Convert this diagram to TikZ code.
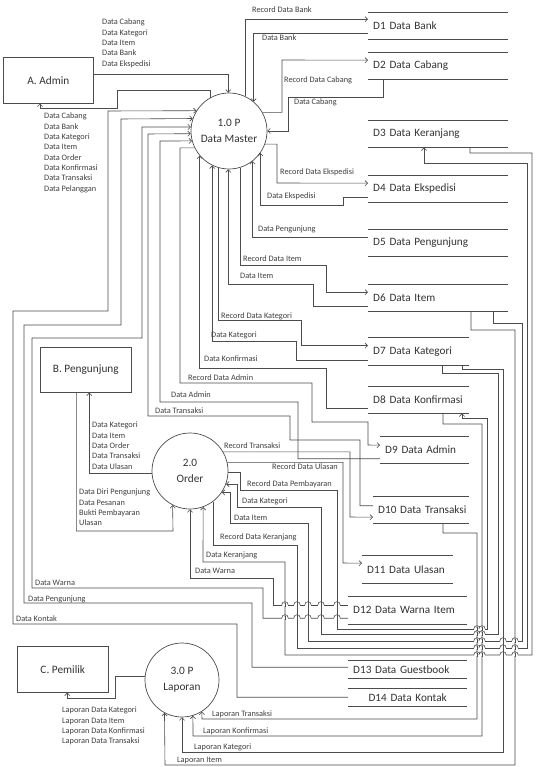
\documentclass[tikz,border=0pt]{standalone}
\usepackage{fontspec}
\setmainfont{Carlito}
\usetikzlibrary{arrows.meta}

\tikzset{
  ln/.style={draw=black!70, line width=0.6pt},
  fl/.style={ln, -{Straight Barb[length=2.6pt,width=5.2pt]}},
  lbl/.style={font=\fontsize{8.3}{10.3}\selectfont, text=black!75, inner sep=0pt, anchor=west},
  blk/.style={lbl, anchor=north west, align=left},
  ent/.style={draw=black!70, line width=0.6pt, font=\fontsize{11.3}{13}\selectfont, text=black!80, anchor=north west, inner sep=0pt},
  proc/.style={circle, draw=black!70, line width=0.7pt, minimum size=#1, align=center, font=\fontsize{11.3}{16}\selectfont, text=black!80, inner sep=0pt},
  store/.style={anchor=north west, text width=#1, align=left, inner xsep=5pt, inner ysep=0pt, minimum height=27pt,
    font=\fontsize{11.2}{13}\selectfont, text=black!80,
    append after command={(\tikzlastnode.north west) edge[ln] (\tikzlastnode.north east)
                          (\tikzlastnode.south west) edge[ln] (\tikzlastnode.south east)}},
}

% small bridge where a horizontal flow passes over a vertical one
\newcommand\hopover[2]{%
  \fill[white] (#1-3.2,#2-1.2) rectangle (#1+3.2,#2+1.2);
  \draw[ln] (#1-3.2,#2) .. controls (#1-3.2,#2-4.4) and (#1+3.2,#2-4.4) .. (#1+3.2,#2);
  \draw[ln] (#1,#2-1.7) -- (#1,#2+1.7);}

\begin{document}
\begin{tikzpicture}[x=1pt,y=-1pt]
\fill[white] (0,0) rectangle (535,767);
\useasboundingbox (0,0) rectangle (535,767);

% ---------- external entities ----------
\node[ent, minimum width=90pt, minimum height=46pt] (admin) at (3,57) {A. Admin};
\node[ent, minimum width=91pt, minimum height=45pt] (peng) at (40,347) {B. Pengunjung};
\node[ent, minimum width=91pt, minimum height=46pt] (pemilik) at (17,646) {C. Pemilik};

% ---------- processes ----------
\node[proc=76pt] (p1) at (229,131) {1.0 P\\Data Master};
\node[proc=76pt] (p2) at (190,471) {2.0\\Order};
\node[proc=74pt] (p3) at (182,680) {3.0 P\\Laporan};

% ---------- data stores ----------
\node[store=130pt] (d1) at (368,12) {D1 Data Bank};
\node[store=130pt] (d2) at (368,52) {D2 Data Cabang};
\node[store=130pt] (d3) at (368,120) {D3 Data Keranjang};
\node[store=130pt] (d4) at (368,175) {D4 Data Ekspedisi};
\node[store=130pt] (d5) at (368,229) {D5 Data Pengunjung};
\node[store=130pt] (d6) at (368,284) {D6 Data Item};
\node[store=91pt, minimum height=28pt] (d7) at (368,337) {D7 Data Kategori};
\node[store=91pt] (d8) at (368,386) {\mbox{D8 Data Konfirmasi}};
\node[store=79pt] (d9) at (380,436) {D9 Data Admin};
\node[store=86pt] (d10) at (373,496) {\mbox{D10 Data Transaksi}};
\node[store=81pt, minimum height=28pt] (d11) at (362,555) {D11 Data Ulasan};
\node[store=109pt, minimum height=28pt] (d12) at (348,596) {D12 Data Warna Item};
\node[store=109pt, minimum height=18pt] (d13) at (348,660) {D13 Data Guestbook};
\node[store=109pt, minimum height=18pt, align=center] (d14) at (348,688) {D14 Data Kontak};

% ---------- Admin <-> 1.0 ----------
\draw[fl] ([yshift=5.5pt]admin.east) -| (p1.91.5);
\draw[fl] (p1.120) |- (117,90) |- (40,108) -- (admin.south -| 40,0);
\node[blk] (la1) at (102,19) {Data Cabang\\Data Kategori\\Data Item\\Data Bank\\Data Ekspedisi};
\node[blk] (la2) at (44,113) {Data Cabang\\Data Bank\\Data Kategori\\Data Item\\Data Order\\Data Konfirmasi\\Data Transaksi\\Data Pelanggan};

% ---------- 1.0 <-> stores (right side) ----------
\draw[fl] (p1.65.1) |- ([yshift=6.5pt]d1.west);
\node[lbl] (t1) at (252,10) {Record Data Bank};
\draw[fl] ([yshift=-7.5pt]d1.west) -| (p1.50.9);
\node[lbl] (t2) at (262,38) {Data Bank};
\draw[fl] (p1.29.9) -| (282,60) -- ([yshift=5.5pt]d2.west);
\node[lbl] (t3) at (284,80) {Record Data Cabang};
\draw[fl] ([xshift=15pt]d2.south west) |- (288,97) |- (p1.east);
\node[lbl] (t4) at (294,102) {Data Cabang};
\draw[fl] (p1.-20) -| (277,183) -- ([yshift=5.5pt]d4.west);
\node[lbl] (t5) at (280,172) {Record Data Ekspedisi};
\draw[fl] ([yshift=-8.5pt]d4.west) -| (343,205) -| (p1.-35.4);
\node[lbl] (t6) at (267,196) {Data Ekspedisi};
\draw[fl] ([yshift=5.5pt]d5.west) -| (p1.-52.7);
\node[lbl] (t7) at (258,229) {Data Pengunjung};
\draw[fl] (p1.-73.2) |- (326,265) |- ([yshift=5.5pt]d6.west);
\node[lbl] (t8) at (243,259) {Record Data Item};
\draw[fl] ([yshift=-8.5pt]d6.west) -| (313,284) -| (p1.-91.5);
\node[lbl] (t9) at (240,276) {Data Item};
\draw[fl] (p1.-106.8) |- (301,320) |- ([yshift=5.5pt]d7.west);
\node[lbl] (t10) at (221,316) {Record Data Kategori};
\draw[fl] ([yshift=-9pt]d7.west) -| (296,341) -| (p1.-116.6);
\node[lbl] (t11) at (211,335) {Data Kategori};
\draw[fl] ([yshift=-9pt]d8.west) -| (326,368) -| (p1.220.3);
\node[lbl] (t12) at (204,359) {Data Konfirmasi};
\draw[fl] (p1.206.6) -| (180,383) -| (312,422) -| (368,445) -- ([yshift=4.5pt]d9.west);
\node[lbl] (t13) at (188,378) {Record Data Admin};
\draw[fl] ([yshift=-9pt]d9.west) -| (298,402) -| (160,141) -- (p1.195.3);
\node[lbl] (t14) at (171,395) {Data Admin};
\draw[fl] ([yshift=4pt]d10.west) -| (360,440) -| (290,416) -| (148,134) -- (p1.184.5);
\node[lbl] (t15) at (155,411) {Data Transaksi};

% ---------- long returns to 1.0 (left side) ----------
\draw[fl] ([yshift=-8pt]d12.west) -| (263,588) -| (32,338) -| (142,127) -- (p1.174);
\node[lbl] (t16) at (35,583) {Data Warna};
\draw[fl] ([yshift=2pt]d13.west) -| (252,603) -| (24,325) -| (121,119) -- (p1.161.6);
\node[lbl] (t17) at (28,599) {Data Pengunjung};
\draw[fl] (d14.west) -| (237,624) -| (13,311) -| (108,111) -- (p1.148.2);
\node[lbl] (t18) at (16,619) {Data Kontak};

% ---------- Pengunjung <-> 2.0 ----------
\draw[fl] (p2.184.5) -| ([xshift=3.5pt]peng.south);
\node[blk] (la3) at (92,422) {Data Kategori\\Data Item\\Data Order\\Data Transaksi\\Data Ulasan};
\draw[fl] ([xshift=-9.5pt]peng.south) |- (173,531) -- (p2.243.4);
\node[blk] (la4) at (79,489) {Data Diri Pengunjung\\Data Pesanan\\Bukti Pembayaran\\Ulasan};

% ---------- 2.0 <-> stores ----------
\draw[fl] (p2.30) -| (350,517) -- ([yshift=-7.5pt]d10.west);
\node[lbl] (t19) at (224,446) {Record Transaksi};
\draw[fl] (p2.13.7) -| (343,563) -- ([yshift=6pt]d11.west);
\node[lbl] (t20) at (272,467) {Record Data Ulasan};
\draw[fl] (p2.358.5) -| (240,490) -| (337,629) -| (487,418) -| ([xshift=94pt]d8.south west);
\node[lbl] (t21) at (247,484) {Record Data Pembayaran};
\draw[fl] ([xshift=74pt]d7.south west) |- (498,373) |- (321,634) |- (237,507) |- (p2.340);
\node[lbl] (t22) at (242,501) {Data Kategori};
\draw[fl] ([xshift=125pt]d6.south west) |- (522,323) |- (308,641) |- (230,523) |- (p2.326.5);
\node[lbl] (t23) at (234,518) {Data Item};
\draw[fl] (p2.307.3) |- (297,545) |- (527,648) |- (424,163) -- ([xshift=56pt]d3.south west);
\node[lbl] (t24) at (220,537) {Record Data Keranjang};
\draw[fl] ([xshift=102pt]d3.south west) |- (532,153) |- (285,655) |- (203,562) -- (p2.290);
\node[lbl] (t25) at (206,555) {Data Keranjang};
\draw[fl] ([yshift=5pt]d12.west) -| (273,578) -| (p2.south);
\node[lbl] (t26) at (195,571) {Data Warna};

% ---------- 3.0 Laporan ----------
\draw[fl] (p3.175.4) -| (115,698) -| ([xshift=4.5pt]pemilik.south);
\node[blk] (la5) at (62,707) {Laporan Data Kategori\\Laporan Data Item\\Laporan Data Konfirmasi\\Laporan Data Transaksi};
\draw[fl] ([xshift=70pt]d10.south west) |- (477,533) |- (202,719) -- (p3.302.7);
\node[lbl] (t27) at (212,714) {Laporan Transaksi};
\draw[fl] ([xshift=75pt]d8.south west) |- (482,424) |- (193,736) -- (p3.287.3);
\node[lbl] (t28) at (203,731) {Laporan Konfirmasi};
\draw[fl] ([xshift=94pt]d7.south west) |- (503,369) |- (182,752) -- (p3.south);
\node[lbl] (t29) at (194,747) {Laporan Kategori};
\draw[fl] ([xshift=103pt]d6.south west) |- (515,330) |- (165,765) -- (p3.242.7);
\node[lbl] (t30) at (177,760) {Laporan Item};

% ---------- bridges at crossings ----------
\foreach \x in {285,297,308,321,337} {\hopover{\x}{605}\hopover{\x}{618}}
\foreach \y in {629,634,641,648,655} {\hopover{477}{\y}\hopover{482}{\y}}
\foreach \y in {641,648,655} {\hopover{503}{\y}\hopover{515}{\y}}
\end{tikzpicture}
\end{document}
